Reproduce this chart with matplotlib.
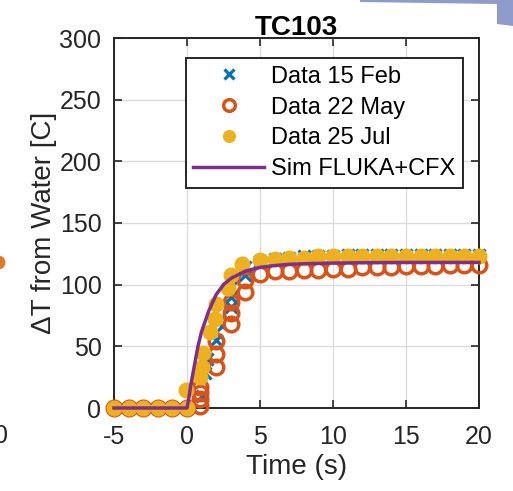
import matplotlib
matplotlib.use("Agg")
import matplotlib.pyplot as plt
from matplotlib.patches import Polygon

plt.rcParams['font.family'] = ['Liberation Sans', 'DejaVu Sans']
plt.rcParams['axes.unicode_minus'] = False

# --- data ---
t_feb = [-5, -4, -3, -2, -1, 0, 1, 1.2, 1.4, 2, 2, 2.1, 3, 3, 3, 4, 4,
         5, 6, 7, 8, 9, 10, 11, 12, 13, 14, 15, 16, 17, 18, 19, 20]
v_feb = [0, 0, 0, 0, 0, 0, 10, 28, 40, 55, 62, 70, 82, 90, 98, 108, 114,
         119, 121, 122, 123, 123, 123, 124, 124, 124, 124, 124, 124, 124, 124, 124, 124]

t_may = [-5, -4, -3, -2, -1, 0, 0.9, 0.9, 0.9, 0.9, 2, 2, 2, 3, 3, 3, 4, 4,
         5, 6, 7, 8, 9, 10, 11, 12, 13, 14, 15, 16, 17, 18, 19, 20]
v_may = [0, 0, 0, 0, 0, 0, 2, 7, 12, 17, 33, 44, 54, 68, 77, 86, 94, 104,
         109, 111, 111, 112, 112, 113, 113, 114, 114, 114, 115, 115, 115, 116, 116, 116]

t_jul = [-5, -4, -3, -2, -1, 0, -0.1, 0.9, 1, 1.1, 1.6, 1.9, 2, 2.8, 3, 3.8,
         5, 6, 7, 8, 9, 10, 11, 12, 13, 14, 15, 16, 17, 18, 19, 20]
v_jul = [0, 0, 0, 0, 0, 0, 15, 25, 33, 45, 62, 72, 84, 97, 108, 117,
         120, 121, 122, 122, 123, 123, 123, 123, 123, 123, 123, 123, 123, 123, 123, 123]

t_sim = [-5, 0, 0.1, 0.25, 0.5, 0.75, 1, 1.5, 2, 2.5, 3, 3.5, 4, 5, 6, 7, 8, 10, 12, 15, 20]
v_sim = [0, 0, 6, 18, 34, 50, 62, 79, 92, 100, 105, 108, 111, 114, 115.5, 116.5, 117,
         117.5, 117.8, 118, 118]

labels = ["Data 15 Feb", "Data 22 May", "Data 25 Jul", "Sim FLUKA+CFX"]
xticks = [-5, 0, 5, 10, 15, 20]
yticks = [0, 50, 100, 150, 200, 250, 300]

W, H = 513, 491
fig = plt.figure(figsize=(W / 100, H / 100), dpi=100)
ax = fig.add_axes([114 / W, 1 - 408 / H, 365 / W, 370 / H])

ax.plot(t_feb, v_feb, 'x', color='#0072BD', ms=8.5, mew=2.3, label=labels[0], zorder=3, clip_on=False)
ax.plot(t_may, v_may, 'o', mfc='none', mec='#D95319', ms=10.5, mew=2.5, label=labels[1], zorder=4, clip_on=False)
ax.plot(t_jul, v_jul, 'o', color='#EDB120', mec='#EDB120', ms=10.5, label=labels[2], zorder=5, clip_on=False)
ax.plot(t_sim, v_sim, '-', color='#7E2F8E', lw=2.5, label=labels[3], zorder=6, clip_on=False)

ax.set_xlim(-5, 20)
ax.set_ylim(0, 300)
ax.set_xticks(xticks)
ax.set_yticks(yticks)
ax.tick_params(direction='in', length=6, width=1.2, labelsize=18, colors='#262626',
               top=True, right=True)
ax.tick_params(axis='x', pad=12)
ax.tick_params(axis='y', pad=9)
for s in ax.spines.values():
    s.set_linewidth(1.4)
    s.set_color('#262626')
ax.grid(True, color='#dcdcdc', linewidth=1.0)
ax.set_axisbelow(True)

ax.set_title("TC103", fontsize=20, fontweight='bold', pad=2)
ax.set_xlabel("Time (s)", fontsize=20, color='#262626', labelpad=4)
ax.set_ylabel("ΔT from Water [C]", fontsize=20, color='#262626', labelpad=2)

leg = ax.legend(loc='upper right', bbox_to_anchor=(0.956, 0.946), borderaxespad=0,
                fontsize=17, fancybox=False, framealpha=1, edgecolor='#262626',
                handlelength=3.0, handletextpad=0.3, labelspacing=0.38, borderpad=0.32,
                markerscale=0.8)
leg.get_frame().set_linewidth(1.4)

# bits of neighbouring figures cut off at the edges
fig.text(8 / W, 1 - 436 / H, "0", fontsize=18, ha='right', va='center', color='#262626')
fig.add_artist(Polygon([[360 / W, 1], [1, 1], [1, 1 - 26 / H], [497 / W, 1 - 24 / H],
                        [497 / W, 1 - 4 / H], [360 / W, 1 - 2 / H]],
                       closed=True, transform=fig.transFigure, color='#8f9ccb', lw=0))
fig.add_artist(plt.Line2D([-2 / W], [1 - 262 / H], marker='o', ms=9, color='#E07A28',
                          transform=fig.transFigure))

fig.savefig("out.png", dpi=100)
